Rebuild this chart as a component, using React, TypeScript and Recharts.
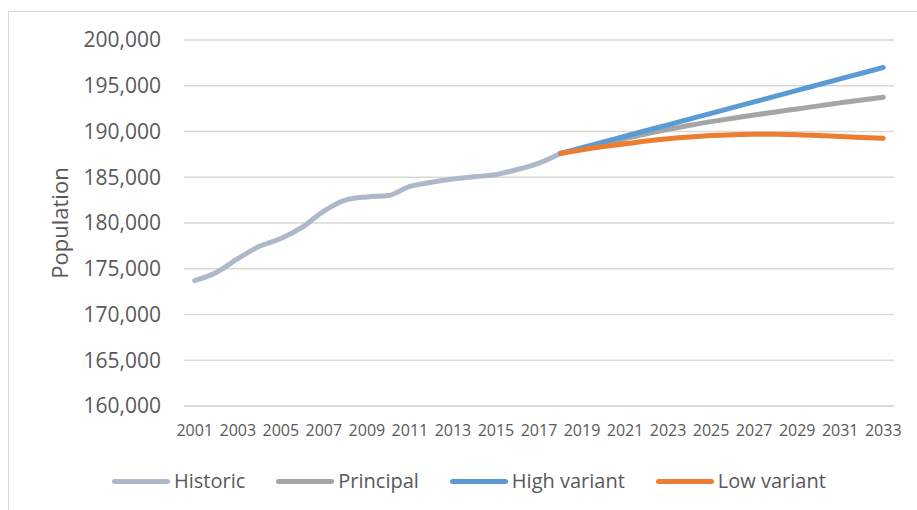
import React from 'react';
import { LineChart, Line, XAxis, YAxis, CartesianGrid } from 'recharts';

// years shown on the category axis
const years = [
    2001, 2002, 2003, 2004, 2005, 2006, 2007, 2008, 2009, 2010, 2011,
    2012, 2013, 2014, 2015, 2016, 2017, 2018, 2019, 2020, 2021, 2022,
    2023, 2024, 2025, 2026, 2027, 2028, 2029, 2030, 2031, 2032, 2033,
];

// 2001 - 2018
const historic = [
    173700, 174600, 176100, 177450, 178300, 179550, 181300, 182500, 182850,
    183000, 184000, 184450, 184800, 185050, 185300, 185850, 186550, 187600,
];

// projections 2018 - 2033
const principal = [
    187600, 188150, 188700, 189230, 189740, 190230, 190680, 191080,
    191450, 191800, 192140, 192470, 192800, 193130, 193450, 193750,
];
const highVariant = [
    187600, 188230, 188850, 189480, 190110, 190730, 191360, 191990,
    192610, 193240, 193870, 194490, 195120, 195750, 196370, 197000,
];
const lowVariant = [
    187600, 188000, 188350, 188650, 188950, 189200, 189400, 189550,
    189650, 189700, 189700, 189650, 189550, 189450, 189350, 189250,
];

const xTicks = [2001, 2003, 2005, 2007, 2009, 2011, 2013, 2015, 2017, 2019, 2021, 2023, 2025, 2027, 2029, 2031, 2033];
const yTicks = [160000, 165000, 170000, 175000, 180000, 185000, 190000, 195000, 200000];

const projStart = 2018;

const data = years.map((year, i) => ({
    year,
    historic: i < historic.length ? historic[i] : undefined,
    principal: year >= projStart ? principal[year - projStart] : undefined,
    high: year >= projStart ? highVariant[year - projStart] : undefined,
    low: year >= projStart ? lowVariant[year - projStart] : undefined,
}));

const series = [
    { key: 'historic', name: 'Historic', color: '#ADB9CA' },
    { key: 'principal', name: 'Principal', color: '#A5A5A5' },
    { key: 'high', name: 'High variant', color: '#5B9BD5' },
    { key: 'low', name: 'Low variant', color: '#ED7D31' },
];

const font = '"Open Sans", sans-serif';
const textColor = '#595959';

const App: React.FC = () => {
    return (
        <div style={{ position: 'fixed', left: 0, top: 0, width: 917, height: 510, background: '#fff', overflow: 'hidden', fontFamily: font }}>
            <div style={{ position: 'absolute', left: 8, top: 11, width: 1000, height: 600, border: '1px solid #D9D9D9' }} />
            <div style={{ position: 'absolute', left: 0, top: 0 }}>
                <LineChart width={917} height={510} data={data} margin={{ top: 40, right: 23, bottom: 74, left: 0 }}>
                    <CartesianGrid vertical={false} stroke="#D9D9D9" strokeWidth={1.5} />
                    <XAxis
                        dataKey="year"
                        type="number"
                        domain={[2000.5, 2033.5]}
                        ticks={xTicks}
                        interval={0}
                        height={30}
                        axisLine={{ stroke: '#D9D9D9', strokeWidth: 1.5 }}
                        tickLine={false}
                        tickSize={0}
                        tickMargin={19}
                        tick={{ fontSize: 16, fill: textColor, fontFamily: font }}
                    />
                    <YAxis
                        domain={[160000, 200000]}
                        ticks={yTicks}
                        interval={0}
                        width={184}
                        axisLine={false}
                        tickLine={false}
                        tickSize={0}
                        tickMargin={23}
                        tickFormatter={(v: number) => v.toLocaleString('en-US')}
                        tick={{ fontSize: 21, fill: textColor, fontFamily: font }}
                        label={{
                            value: 'Population',
                            angle: -90,
                            position: 'insideLeft',
                            offset: 60,
                            style: { textAnchor: 'middle', fontSize: 22, fill: textColor, fontFamily: font },
                        }}
                    />
                    {series.map((s) => (
                        <Line
                            key={s.key}
                            type="monotone"
                            dataKey={s.key}
                            name={s.name}
                            stroke={s.color}
                            strokeWidth={5}
                            strokeLinecap="round"
                            strokeLinejoin="round"
                            dot={false}
                            activeDot={false}
                            connectNulls={false}
                            isAnimationActive={false}
                        />
                    ))}
                </LineChart>
            </div>
            <div style={{ position: 'absolute', left: 112, top: 467, display: 'flex', alignItems: 'center', height: 28 }}>
                {series.map((s) => (
                    <div key={s.key} style={{ display: 'flex', alignItems: 'center', marginRight: 31 }}>
                        <div style={{ width: 58, height: 5, borderRadius: 3, background: s.color, marginRight: 4 }} />
                        <span style={{ fontSize: 20, color: textColor, lineHeight: '28px' }}>{s.name}</span>
                    </div>
                ))}
            </div>
        </div>
    );
};

export default App;
